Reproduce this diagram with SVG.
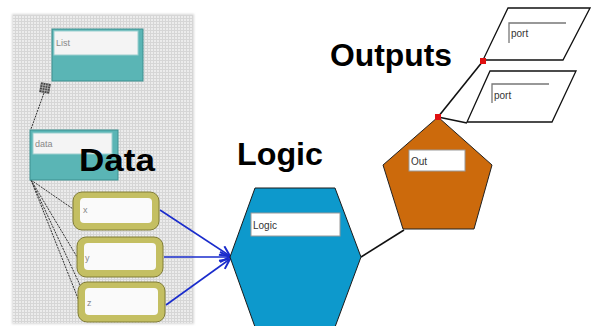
<svg xmlns="http://www.w3.org/2000/svg" width="591" height="326" viewBox="0 0 591 326">
  <defs>
    <pattern id="grid" width="3" height="3" patternUnits="userSpaceOnUse">
      <rect width="3" height="3" fill="#ececec"/>
      <path d="M0 0.5H3M0.5 0V3" stroke="#d6d6d6" stroke-width="1"/>
    </pattern>
    <marker id="arr" viewBox="0 0 12 12" refX="11" refY="6" markerWidth="12" markerHeight="12" markerUnits="userSpaceOnUse" orient="auto">
      <path d="M1 1L11 6L1 11" fill="none" stroke="#1a2ccc" stroke-width="2"/>
    </marker>
    <filter id="soft" x="-5%" y="-5%" width="110%" height="110%">
      <feGaussianBlur stdDeviation="1.2"/>
    </filter>
  </defs>
  <style>
    .big { font-family: "Liberation Sans", Arial, sans-serif; font-weight: bold; font-size: 32px; fill: #000; }
    .lbl { font-family: "Liberation Sans", Arial, sans-serif; font-size: 10px; fill: #333; }
    .glbl { font-family: "Liberation Sans", Arial, sans-serif; font-size: 9px; fill: #888; }
    .teal { fill: #5ab5b5; stroke: #3c8f8f; stroke-width: 1; }
    .olive { fill: #c4bf62; stroke: #807c35; stroke-width: 1; }
    .dash { stroke: #333; stroke-width: 1; stroke-dasharray: 2 1; fill: none; }
    .blue { stroke: #1a2ccc; stroke-width: 1.6; fill: none; marker-end: url(#arr); }
    .wire { stroke: #111; stroke-width: 1.6; fill: none; }
    .para { fill: #fff; stroke: #111; stroke-width: 1.3; }
    .inner { stroke: #777; stroke-width: 1.3; fill: none; }
  </style>

  <rect width="591" height="326" fill="#fff"/>

  <g id="panel">
    <rect x="12" y="14" width="182" height="310" fill="#d8d8d8" filter="url(#soft)"/>
    <rect x="13" y="15" width="180" height="308" fill="url(#grid)"/>
  </g>

  <g id="connectors">
    <path class="dash" d="M44 93L31 129"/>
    <path class="dash" d="M31 180L76 211"/>
    <path class="dash" d="M31 180L80 262"/>
    <path class="dash" d="M31 180L81 306"/>
    <path class="dash" d="M31 180L80 285"/>
    <path class="blue" d="M160 210L230 256"/>
    <path class="blue" d="M164 257L230 257"/>
    <path class="blue" d="M166 305L230 259"/>
    <path class="wire" d="M361 257L404 230"/>
    <path class="wire" d="M438 117L483 61"/>
    <path class="wire" d="M438 117L467 123"/>
  </g>

  <g id="list">
    <rect class="teal" x="52" y="29" width="91" height="52"/>
    <rect x="54" y="31" width="84" height="24" fill="#f4f4f4" stroke="#9ccfcf" stroke-width="1"/>
    <text class="glbl" x="56" y="46">List</text>
  </g>

  <g id="junction">
    <rect x="40" y="83" width="10" height="10" fill="#444" transform="rotate(10 45 88)"/>
    <path d="M40 85.5H50M40 88H50M40 90.5H50M42.5 83V93M45 83V93M47.5 83V93" stroke="#bbb" stroke-width="0.7" transform="rotate(10 45 88)"/>
  </g>

  <g id="data">
    <rect class="teal" x="30" y="130" width="88" height="50"/>
    <rect x="33" y="133" width="79" height="21" fill="#f4f4f4" stroke="#9ccfcf" stroke-width="1"/>
    <text class="glbl" x="35" y="147">data</text>
  </g>

  <g id="x">
    <rect class="olive" x="73" y="192" width="86" height="38" rx="9"/>
    <rect x="80" y="198" width="72" height="25" rx="4" fill="#fafafa"/>
    <text class="glbl" x="83" y="213">x</text>
  </g>
  <g id="y">
    <rect class="olive" x="77" y="237" width="86" height="40" rx="9"/>
    <rect x="84" y="243" width="72" height="27" rx="4" fill="#fafafa"/>
    <text class="glbl" x="85" y="261">y</text>
  </g>
  <g id="z">
    <rect class="olive" x="78" y="282" width="87" height="40" rx="9"/>
    <rect x="85" y="288" width="73" height="27" rx="4" fill="#fafafa"/>
    <text class="glbl" x="87" y="306">z</text>
  </g>

  <text class="big" x="79" y="171" textLength="76" lengthAdjust="spacingAndGlyphs">Data</text>
  <text class="big" x="237" y="165" textLength="86" lengthAdjust="spacingAndGlyphs">Logic</text>
  <text class="big" x="330" y="66" textLength="122" lengthAdjust="spacingAndGlyphs">Outputs</text>

  <g id="logic">
    <polygon points="230,257 255,188 335,188 361,257 335,327 255,327" fill="#0d99cc" stroke="#1a1a1a" stroke-width="1"/>
    <rect x="251" y="213" width="89" height="23" fill="#fff" stroke="#999" stroke-width="1"/>
    <text class="lbl" x="253" y="229" font-size="12">Logic</text>
  </g>

  <g id="out">
    <polygon points="438,117 383,165 403,229 474,229 492,165" fill="#cc6a0c" stroke="#222" stroke-width="1"/>
    <rect x="409" y="150" width="56" height="21" fill="#fff" stroke="#999" stroke-width="1"/>
    <text class="lbl" x="411" y="165">Out</text>
  </g>

  <g id="port1">
    <polygon class="para" points="508,8 590,8 563,60 483,60"/>
    <path class="inner" d="M509 43V23H566"/>
    <text class="lbl" x="511" y="37">port</text>
  </g>
  <g id="port2">
    <polygon class="para" points="490,71 576,71 552,122 467,122"/>
    <path class="inner" d="M492 103V84H549"/>
    <text class="lbl" x="494" y="99">port</text>
  </g>

  <g id="dots">
    <rect x="480" y="58" width="6" height="6" fill="#e01010"/>
    <rect x="435" y="114" width="6" height="6" fill="#e01010"/>
  </g>
</svg>
